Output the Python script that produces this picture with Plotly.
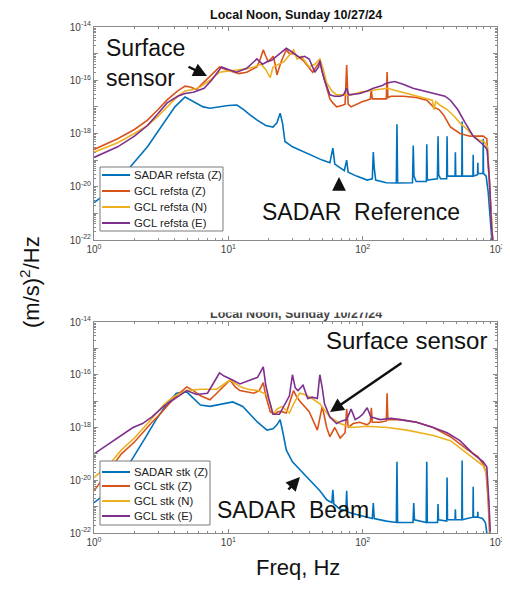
import numpy as np
import plotly.graph_objects as go

# ---------------- data (log10 of PSD, (m/s)^2/Hz) ----------------
# Top panel: reference station
f_sadar_ref = [1.0, 1.2, 1.5, 1.86, 2.5, 3.0, 3.5, 4.0, 4.76, 5.5, 6.5, 7.3, 8.5, 10, 11.6, 13, 14.5, 16.4, 19, 21.5, 23, 24.3, 25.3, 26.4, 30, 34, 40, 50, 57, 60, 62, 68, 73, 76, 78, 90, 108, 118, 120, 122, 125, 150, 178, 180, 182, 235, 238, 241, 250, 298, 300, 303, 360, 364, 368, 380, 422, 425, 428, 487, 490, 493, 547, 550, 553, 600, 662, 665, 668, 717, 720, 723, 787, 790, 793, 830, 860, 900, 930]
p_sadar_ref = [-20.6, -20.3, -19.7, -19.26, -18.5, -17.9, -17.4, -17.0, -16.63, -16.8, -17.0, -17.05, -17.0, -16.95, -16.93, -17.1, -17.3, -17.5, -17.7, -17.76, -17.6, -17.24, -17.6, -18.3, -18.5, -18.62, -18.8, -19.0, -19.1, -18.55, -19.15, -19.3, -19.4, -19.0, -19.45, -19.6, -19.75, -19.7, -18.7, -19.3, -19.75, -19.85, -19.86, -17.65, -19.86, -19.85, -18.45, -19.6, -19.8, -19.8, -18.4, -19.75, -19.7, -18.1, -19.55, -19.7, -19.7, -18.1, -19.6, -19.6, -18.7, -19.6, -19.6, -17.55, -19.6, -19.6, -19.6, -18.8, -19.6, -19.55, -19.1, -19.5, -19.5, -18.2, -19.5, -19.6, -20.2, -21.5, -22.5]

f_gclz_ref = [1.0, 1.5, 2.0, 2.5, 3.0, 3.5, 4.2, 4.76, 5.2, 5.8, 6.5, 7.5, 8.6, 9.5, 10.8, 12, 13.7, 15, 16.3, 17.3, 18.2, 19, 19.8, 20.7, 21.6, 22.3, 23, 24, 25, 27, 28.5, 30.6, 33, 36, 39, 42.5, 45, 48, 50.7, 54, 57, 60, 64, 70, 74, 76, 78, 82, 90, 100, 108, 114, 116, 118, 135, 150, 152, 154, 163, 200, 250, 300, 335, 370, 400, 450, 530, 630, 700, 790, 840, 870, 900, 940]
p_gclz_ref = [-18.6, -18.2, -17.85, -17.5, -17.1, -16.74, -16.4, -16.22, -16.25, -16.35, -16.1, -15.8, -15.5, -15.6, -15.69, -15.75, -15.7, -15.6, -15.5, -15.2, -14.86, -15.1, -15.3, -15.2, -15.1, -15.4, -15.8, -15.5, -15.24, -14.86, -15.0, -15.0, -15.1, -15.25, -15.45, -15.7, -15.5, -15.3, -15.8, -16.3, -16.7, -16.85, -17.0, -16.95, -16.9, -15.43, -16.9, -17.0, -16.9, -16.8, -16.75, -16.7, -16.37, -16.7, -16.7, -16.7, -15.69, -16.65, -16.6, -16.6, -16.65, -16.75, -17.0, -17.1, -17.3, -17.75, -18.0, -18.1, -18.1, -18.1, -18.2, -19.5, -21.0, -22.5]

f_gcln_ref = [1.0, 1.5, 2.0, 2.5, 3.0, 3.5, 4.2, 4.76, 5.5, 6.2, 7.3, 8.6, 10, 11.5, 13.7, 15.5, 17.5, 19, 20.5, 21.5, 24, 26, 28, 30.6, 32.5, 35, 40, 44, 48, 51, 54, 59, 64, 72, 82, 95, 108, 130, 152, 180, 214, 260, 300, 330, 340, 350, 380, 425, 480, 530, 600, 665, 740, 800, 850, 880, 910, 940]
p_gcln_ref = [-18.7, -18.35, -18.0, -17.7, -17.35, -17.0, -16.6, -16.4, -16.35, -16.25, -16.0, -15.7, -15.65, -15.6, -15.57, -15.5, -15.4, -15.6, -15.9, -15.5, -15.4, -15.3, -15.1, -14.86, -15.2, -15.1, -15.5, -15.4, -15.2, -15.6, -16.1, -16.4, -16.55, -16.55, -16.55, -16.45, -16.4, -16.35, -16.3, -16.4, -16.5, -16.6, -16.7, -16.75, -17.1, -16.8, -16.95, -17.1, -17.35, -17.6, -17.85, -18.1, -18.25, -18.3, -18.5, -19.8, -21.5, -22.5]

f_gcle_ref = [1.0, 1.5, 2.0, 2.5, 3.0, 3.5, 4.2, 4.76, 5.5, 6.6, 7.5, 8.9, 10, 11.5, 13.7, 16.3, 18, 19.5, 21, 24, 27, 29, 31, 34, 37, 40, 44, 47, 48, 49.5, 52, 57, 62, 68, 72, 76, 79, 95, 108, 120, 140, 152, 173, 200, 237, 280, 335, 375, 410, 450, 510, 580, 665, 740, 800, 845, 880, 910, 950]
p_gcle_ref = [-18.9, -18.5, -18.1, -17.7, -17.25, -16.85, -16.6, -16.5, -16.45, -16.3, -16.0, -15.5, -15.6, -15.7, -15.55, -15.2, -15.4, -15.3, -15.25, -15.0, -14.8, -14.9, -15.0, -15.15, -15.1, -15.2, -15.7, -15.5, -15.25, -15.6, -16.0, -16.55, -16.6, -16.6, -16.55, -16.3, -16.55, -16.5, -16.4, -16.3, -16.2, -16.1, -16.05, -16.15, -16.3, -16.4, -16.5, -16.55, -16.6, -16.75, -17.1, -17.6, -18.1, -18.3, -18.45, -18.6, -19.8, -21.5, -22.5]

# Bottom panel: stacked beam
f_sadar_stk = [1.0, 1.3, 1.6, 1.95, 2.4, 2.9, 3.5, 4.1, 4.9, 5.5, 6.2, 7.3, 9, 10.8, 12.8, 14.5, 16.5, 19.4, 21.5, 23, 24.3, 25.5, 27, 30, 34, 38, 42.5, 48, 54, 59, 60, 61, 68, 75, 76, 77, 90, 108, 118, 120, 122, 150, 178, 180, 182, 237, 240, 243, 297, 300, 303, 361, 364, 367, 422, 425, 428, 487, 490, 493, 547, 550, 553, 600, 662, 665, 668, 717, 720, 723, 780, 820, 850, 870]
p_sadar_stk = [-20.85, -20.4, -19.8, -19.15, -18.4, -17.7, -17.1, -16.7, -16.65, -16.9, -17.15, -17.2, -17.1, -17.03, -17.2, -17.5, -17.8, -18.1, -18.05, -17.9, -17.7, -18.2, -18.85, -19.3, -19.6, -19.85, -20.1, -20.4, -20.74, -20.85, -20.36, -20.9, -21.1, -21.15, -20.4, -21.2, -21.3, -21.4, -21.45, -20.86, -21.45, -21.55, -21.6, -19.3, -21.6, -21.6, -20.86, -21.5, -21.6, -19.3, -21.6, -21.6, -20.9, -21.5, -21.55, -19.9, -21.5, -21.5, -21.1, -21.5, -21.5, -19.25, -21.5, -21.45, -21.4, -20.25, -21.4, -21.4, -21.2, -21.4, -21.45, -21.6, -22.2, -22.8]

f_gclz_stk = [1.0, 1.3, 1.6, 2.0, 2.3, 2.7, 3.1, 3.5, 4.0, 4.9, 5.5, 6.2, 7.3, 8.2, 9.2, 10.3, 11.2, 12.2, 15.5, 17, 18.2, 19, 20.5, 22, 23.5, 25, 27, 29, 30.6, 32, 34, 40, 46, 50, 54, 57, 62, 68, 74, 76, 78, 85, 95, 108, 114, 116, 118, 135, 150, 152, 154, 190, 252, 335, 450, 605, 720, 790, 830, 860, 890]
p_gclz_stk = [-20.4, -19.6, -19.0, -18.55, -18.2, -17.8, -17.5, -17.2, -16.85, -16.46, -16.6, -16.8, -16.95, -16.7, -16.46, -16.2, -16.45, -16.6, -16.7, -16.6, -16.3, -16.8, -17.4, -17.5, -17.4, -17.4, -17.45, -17.0, -16.6, -16.8, -17.0, -17.4, -18.1, -17.2, -18.0, -18.35, -18.0, -18.4, -18.2, -17.3, -18.0, -17.85, -17.8, -17.9, -17.8, -17.25, -17.8, -17.8, -17.75, -16.7, -17.7, -17.7, -17.8, -18.0, -18.35, -18.85, -19.1, -19.4, -19.7, -20.8, -22.5]

f_gcln_stk = [1.0, 1.3, 1.6, 2.0, 2.6, 3.4, 4.0, 4.9, 6.2, 8.2, 9.3, 10.3, 12.2, 14, 16.5, 19.4, 20.5, 21.5, 23, 25, 28.5, 30.6, 34, 37, 42, 48, 57, 68, 82, 108, 152, 214, 335, 450, 605, 790, 840, 870, 890]
p_gcln_stk = [-19.9, -19.4, -18.85, -18.4, -17.75, -17.07, -16.8, -16.6, -16.55, -16.55, -16.35, -16.2, -16.45, -16.55, -16.6, -16.75, -17.1, -17.5, -17.3, -17.2, -17.45, -17.1, -16.7, -16.75, -16.9, -17.1, -17.6, -17.85, -18.0, -17.95, -18.0, -18.1, -18.3, -18.5, -19.0, -19.45, -19.8, -21.0, -22.5]

f_gcle_stk = [1.0, 1.3, 1.6, 1.95, 2.3, 2.7, 3.3, 4.0, 4.9, 5.8, 7.0, 8.0, 8.6, 9.3, 10.3, 12.2, 14.5, 16.5, 18.2, 19, 20, 21.5, 24, 27, 28.5, 30, 31.5, 33, 36, 39, 42, 46, 48, 50, 52, 57, 64, 70, 76, 82, 88, 95, 100, 108, 115, 135, 163, 190, 252, 335, 425, 530, 665, 790, 840, 870, 900]
p_gcle_stk = [-19.0, -18.6, -18.3, -18.0, -17.85, -17.6, -17.2, -16.9, -16.6, -16.75, -16.7, -16.2, -15.93, -16.05, -16.15, -16.35, -16.2, -16.1, -15.7, -16.4, -16.9, -17.5, -17.5, -17.0, -16.8, -16.0, -16.5, -16.6, -16.4, -16.9, -16.85, -16.9, -16.0, -16.5, -17.1, -17.6, -17.85, -17.75, -17.7, -17.3, -17.7, -17.6, -17.5, -17.25, -17.6, -17.7, -17.65, -17.7, -17.8, -18.0, -18.2, -18.5, -19.0, -19.3, -19.5, -20.8, -22.5]

names_top = ["SADAR refsta (Z)", "GCL refsta (Z)", "GCL refsta (N)", "GCL refsta (E)"]
names_bot = ["SADAR stk (Z)", "GCL stk (Z)", "GCL stk (N)", "GCL stk (E)"]
colors = ["#0072BD", "#D95319", "#EDB120", "#7E2F8E"]

y_tick_exp = [-22, -21, -20, -19, -18, -17, -16, -15, -14]
x_tick_exp = [0, 1, 2, 3]

FONT = "Arial, Liberation Sans, sans-serif"
OFF = 8               # page body margin of the browser
W, H = 510 - OFF, 589 - 2 * OFF

fig = go.Figure()

top_series = [(f_sadar_ref, p_sadar_ref), (f_gclz_ref, p_gclz_ref), (f_gcln_ref, p_gcln_ref), (f_gcle_ref, p_gcle_ref)]
bot_series = [(f_sadar_stk, p_sadar_stk), (f_gclz_stk, p_gclz_stk), (f_gcln_stk, p_gcln_stk), (f_gcle_stk, p_gcle_stk)]

for (f, p), name, c in zip(top_series, names_top, colors):
    fig.add_trace(go.Scatter(x=f, y=np.power(10.0, p), mode="lines", name=name,
                             line=dict(color=c, width=1.6), xaxis="x", yaxis="y", showlegend=False))
for (f, p), name, c in zip(bot_series, names_bot, colors):
    fig.add_trace(go.Scatter(x=f, y=np.power(10.0, p), mode="lines", name=name,
                             line=dict(color=c, width=1.6), xaxis="x2", yaxis="y2", showlegend=False))

def px_x(X):
    return (X - OFF) / W

def px_y(Y):
    return 1 - (Y - OFF) / H

ytickvals = [10.0 ** e for e in y_tick_exp]
yticktext = ["10<sup>%d</sup>" % e if e % 2 == 0 else "" for e in y_tick_exp]
xtickvals = [10.0 ** e for e in x_tick_exp]
xticktext = ["10<sup>%d</sup>" % e for e in x_tick_exp]

axis_common = dict(showgrid=False, zeroline=False, showline=True, linecolor="#8a8a8a", linewidth=1,
                   mirror="ticks", ticks="inside", ticklen=4, tickcolor="#8a8a8a", automargin=False,
                   tickfont=dict(family=FONT, size=10, color="#404040"))
xa = dict(axis_common, type="log", range=[0, 3], tickvals=xtickvals, ticktext=xticktext,
          minor=dict(ticks="inside", ticklen=2, tickcolor="#8a8a8a", dtick="D1", showgrid=False))
ya = dict(axis_common, type="log", range=[-22, -14], tickvals=ytickvals, ticktext=yticktext,
          minor=dict(ticks="inside", ticklen=2, tickcolor="#8a8a8a", dtick="D1", showgrid=False))

xdom = [px_x(94), px_x(497)]
fig.update_layout(
    width=W, height=H, margin=dict(l=0, r=0, t=0, b=0, autoexpand=False),
    paper_bgcolor="white", plot_bgcolor="white",
    xaxis=dict(xa, domain=xdom, anchor="y"),
    yaxis=dict(ya, domain=[px_y(240), px_y(27)], anchor="x"),
    xaxis2=dict(xa, domain=xdom, anchor="y2"),
    yaxis2=dict(ya, domain=[px_y(533), px_y(322)], anchor="x2"),
    showlegend=False,
)

ann = []
shapes = []

def text_ann(text, X, Y, font, xanchor="center", **kw):
    d = dict(text=text, x=px_x(X), y=px_y(Y), xref="paper", yref="paper", showarrow=False,
             xanchor=xanchor, yanchor="middle", font=font)
    d.update(kw)
    ann.append(d)

# hand-drawn legend boxes (MATLAB-style compact legends)
def add_legend(names, box, rows):
    x0, y0, x1, y1 = box
    shapes.append(dict(type="rect", xref="paper", yref="paper", x0=px_x(x0), x1=px_x(x1),
                       y0=px_y(y1), y1=px_y(y0), fillcolor="white", line=dict(color="#7a7a7a", width=1),
                       layer="above"))
    for name, c, ry in zip(names, colors, rows):
        shapes.append(dict(type="line", xref="paper", yref="paper", x0=px_x(x0 + 2), x1=px_x(x0 + 30),
                           y0=px_y(ry), y1=px_y(ry), line=dict(color=c, width=2), layer="above"))
        text_ann(name, x0 + 32, ry, dict(family=FONT, size=11.3, color="#222"), xanchor="left")

add_legend(names_top, (100, 167, 223, 231), [175, 191, 207, 223])
add_legend(names_bot, (100, 461, 210, 525), [472, 486, 501, 516])

# titles
text_ann("<b>Local Noon, Sunday 10/27/24</b>", 296, 15, dict(family=FONT, size=12.5, color="#111"))
text_ann("<b>Local Noon, Sunday 10/27/24</b>", 296, 314, dict(family=FONT, size=12.5, color="#444"))
text_ann(" ", 296, 305, dict(size=4), width=220, height=12, bgcolor="white")
# axis titles
text_ann("(m/s)<sup>2</sup>/Hz", 30, 282, dict(family=FONT, size=22, color="#111"), textangle=-90)
text_ann("Freq, Hz", 298, 567, dict(family=FONT, size=22, color="#111"))
# callouts
TF = dict(family=FONT, size=23, color="#111")
text_ann("Surface<br>sensor", 104, 63, TF, xanchor="left", align="left")
text_ann("SADAR  Reference", 361, 212, TF)
text_ann("Surface sensor", 406, 340, dict(TF, size=24))
text_ann("SADAR  Beam", 293, 510, TF)
# arrows (head position, tail position in px)
arrows = [((207, 76), (187, 66)), ((339, 177), (339, 190)), ((330, 412), (403, 362)), ((300, 477), (287, 491))]
for (hx, hy), (tx, ty) in arrows:
    ann.append(dict(text="", x=px_x(hx), y=px_y(hy), xref="paper", yref="paper", showarrow=True,
                    ax=tx - hx, ay=ty - hy, arrowhead=2, arrowsize=1.1, arrowwidth=2.5, arrowcolor="#111"))

fig.update_layout(annotations=ann, shapes=shapes)
fig.write_html("out.html")
